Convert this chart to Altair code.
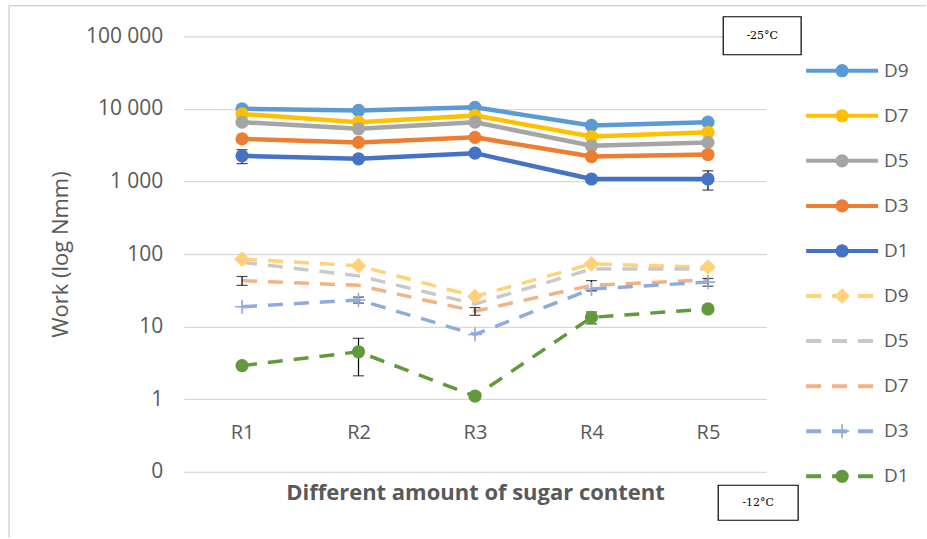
import altair as alt
import pandas as pd

categories = ["R1", "R2", "R3", "R4", "R5"]

# Work at -25 °C (solid lines)
cold_d9 = [10000, 9500, 10500, 5900, 6550]
cold_d7 = [8500, 6550, 8100, 4150, 4750]
cold_d5 = [6550, 5300, 6550, 3100, 3450]
cold_d3 = [3850, 3450, 4050, 2200, 2350]
cold_d1 = [2250, 2050, 2450, 1080, 1080]

# Work at -12 °C (dashed lines)
mild_d9 = [85, 69, 26, 73, 66]
mild_d5 = [77, 50, 20.5, 62, 62]
mild_d7 = [43, 37, 16.3, 37, 44]
mild_d3 = [18.8, 23.3, 7.8, 33, 41]
mild_d1 = [2.9, 4.5, 1.1, 13.4, 17.5]

# Series in legend order
series_keys = ["c9", "c7", "c5", "c3", "c1", "m9", "m5", "m7", "m3", "m1"]
series_labels = ["D9", "D7", "D5", "D3", "D1", "D9", "D5", "D7", "D3", "D1"]
series_values = [cold_d9, cold_d7, cold_d5, cold_d3, cold_d1,
                 mild_d9, mild_d5, mild_d7, mild_d3, mild_d1]
series_colors = ["#5B9BD5", "#FFC000", "#A5A5A5", "#ED7D31", "#4472C4",
                 "#FFD27A", "#C9C9C9", "#F4B183", "#8FAADC", "#62993B"]
series_style = ["solid"] * 5 + ["dash"] * 5
series_marker = ["circle"] * 5 + ["diamond", "none", "none", "plus", "circle"]

# Error bars: series, category, +/- amount
err_series = ["c1", "c1", "m7", "m3", "m1", "m7", "m7", "m1", "m3"]
err_category = ["R1", "R5", "R1", "R2", "R2", "R3", "R4", "R4", "R5"]
err_amount = [490, 320, 6, 2.2, 2.4, 2, 6, 2.5, 5]

# Value axis
tick_values = [0.1, 1, 10, 100, 1000, 10000, 100000]
tick_labels = ["0", "1", "10", "100", "1 000", "10 000", "100 000"]

temp_top = "-25°C"
temp_bottom = "-12°C"

TEXT = "#595959"
FONT = "Open Sans"
DASH = [15, 11]
W, H = 583, 436

rows = []
for key, lab, vals, sty, mk in zip(series_keys, series_labels, series_values,
                                   series_style, series_marker):
    for cat, v in zip(categories, vals):
        rows.append({"key": key, "label": lab, "style": sty, "marker": mk,
                     "category": cat, "work": v})
df = pd.DataFrame(rows)

lookup = {(r["key"], r["category"]): r["work"] for r in rows}
err_rows = []
cap_rows = []
for s, c, e in zip(err_series, err_category, err_amount):
    v = lookup[(s, c)]
    err_rows.append({"category": c, "lo": v - e, "hi": v + e})
    cap_rows.append({"category": c, "work": v - e})
    cap_rows.append({"category": c, "work": v + e})
err_df = pd.DataFrame(err_rows)
cap_df = pd.DataFrame(cap_rows)

# label expression from the tick lists
expr = "''"
for v, lab in reversed(list(zip(tick_values, tick_labels))):
    expr = f"datum.value < {v * 3} ? '{lab}' : ({expr})"

color = alt.Color("key:N", scale=alt.Scale(domain=series_keys, range=series_colors), legend=None)

# the category axis sits on the "1" gridline, one decade above the bottom
x_enc = alt.X(
    "category:N",
    scale=alt.Scale(type="point", domain=categories, padding=0.5),
    title="Different amount of sugar content",
    axis=alt.Axis(offset=-H / 6, domain=False, ticks=False, grid=False,
                  labelAngle=0, labelPadding=23, labelFontSize=20, labelColor=TEXT,
                  labelFont=FONT, titleFont=FONT, titleFontSize=22, titleColor=TEXT,
                  titleFontWeight="bold", titlePadding=40),
)
y_enc = alt.Y(
    "work:Q",
    scale=alt.Scale(type="log", domain=[0.1, 100000], nice=False),
    title="Work (log Nmm)",
    axis=alt.Axis(values=tick_values, labelExpr=expr, domain=False, ticks=False,
                  grid=True, gridColor="#D9D9D9", gridWidth=1.3,
                  labelPadding=21, labelFontSize=21, labelColor=TEXT, labelFont=FONT,
                  titleFont=FONT, titleFontSize=22, titleColor=TEXT,
                  titleFontWeight="normal", titlePadding=13),
)

base = alt.Chart(df).encode(x=x_enc, y=y_enc, color=color, detail="key:N")

solid_lines = base.transform_filter("datum.style == 'solid'").mark_line(
    strokeWidth=4.5, strokeCap="round", strokeJoin="round")
dashed_lines = base.transform_filter("datum.style == 'dash'").mark_line(
    strokeWidth=3.5, strokeDash=DASH, strokeJoin="round")

err_rule = alt.Chart(err_df).mark_rule(color="black", strokeWidth=1.2).encode(
    x="category:N", y="lo:Q", y2="hi:Q")
err_caps = alt.Chart(cap_df).mark_tick(color="black", thickness=1.2, size=11,
                                       orient="horizontal").encode(
    x="category:N", y="work:Q")

circles = base.transform_filter("datum.marker == 'circle'").mark_point(
    filled=True, shape="circle", size=175, opacity=1)
diamonds = base.transform_filter("datum.marker == 'diamond'").mark_point(
    filled=True, shape="diamond", size=250, opacity=1)
pluses = base.transform_filter("datum.marker == 'plus'").mark_point(
    filled=False, shape="M-1,0L1,0M0,-1L0,1", size=200, strokeWidth=1.6, opacity=1)

# chart-area frame (left and top edges)
one = pd.DataFrame({"k": [0]})
frame_left = alt.Chart(one).mark_rule(color="#C0C0C0", strokeWidth=1).encode(
    x=alt.value(-175), y=alt.value(-30.5), y2=alt.value(502))
frame_top = alt.Chart(one).mark_rule(color="#C0C0C0", strokeWidth=1).encode(
    x=alt.value(-175), x2=alt.value(743), y=alt.value(-30.5))


def temp_box(text, x0, x1, y0, y1):
    box = alt.Chart(one).mark_rect(fill="white", stroke="black", strokeWidth=1.2).encode(
        x=alt.value(x0), x2=alt.value(x1), y=alt.value(y0), y2=alt.value(y1))
    label = alt.Chart(one).mark_text(font="DejaVu Serif", fontSize=11, color="black",
                                     align="center", baseline="middle").encode(
        x=alt.value((x0 + x1) / 2), y=alt.value((y0 + y1) / 2), text=alt.value(text))
    return box + label


main = alt.layer(
    frame_left, frame_top,
    solid_lines, dashed_lines, err_rule, err_caps, circles, diamonds, pluses,
    temp_box(temp_top, 540, 618, -19.5, 18.5),
    temp_box(temp_bottom, 535, 615, 449.5, 484.5),
).properties(width=W, height=H)

# Legend panel built from the series lists
leg_df = pd.DataFrame({"key": series_keys, "label": series_labels, "style": series_style,
                       "marker": series_marker})
leg_y = alt.Y("key:N", scale=alt.Scale(type="point", domain=series_keys, range=[34.5, 440.5],
                                       padding=0),
              axis=None)
leg_base = alt.Chart(leg_df).encode(y=leg_y, color=color)
leg_lines = leg_base.mark_rule(strokeWidth=4).encode(
    x=alt.XDatum(0, type="quantitative", scale=alt.Scale(domain=[0, 1]), axis=None),
    x2=alt.X2Datum(1),
    strokeDash=alt.StrokeDash("style:N", scale=alt.Scale(domain=["solid", "dash"],
                                                         range=[[1, 0], DASH]), legend=None),
)
leg_circles = leg_base.transform_filter("datum.marker == 'circle'").mark_point(
    filled=True, shape="circle", size=175, opacity=1).encode(x=alt.XDatum(0.5))
leg_diamonds = leg_base.transform_filter("datum.marker == 'diamond'").mark_point(
    filled=True, shape="diamond", size=250, opacity=1).encode(x=alt.XDatum(0.5))
leg_plus = leg_base.transform_filter("datum.marker == 'plus'").mark_point(
    filled=False, shape="M-1,0L1,0M0,-1L0,1", size=200, strokeWidth=1.6, opacity=1).encode(
    x=alt.XDatum(0.5))
leg_text = alt.Chart(leg_df).mark_text(align="left", baseline="middle", dx=6, fontSize=19,
                                       font=FONT, color=TEXT).encode(
    y=leg_y, x=alt.XDatum(1), text="label:N")

legend = alt.layer(leg_lines, leg_circles, leg_diamonds, leg_plus, leg_text).properties(
    width=72, height=H)

chart = alt.hconcat(main, legend, spacing=40, bounds="flush").properties(
    padding={"left": 8, "top": 5, "right": 0, "bottom": 0},
    background="white",
).configure_view(stroke=None)

chart.save("out.html", embed_options={"renderer": "svg", "actions": False})
